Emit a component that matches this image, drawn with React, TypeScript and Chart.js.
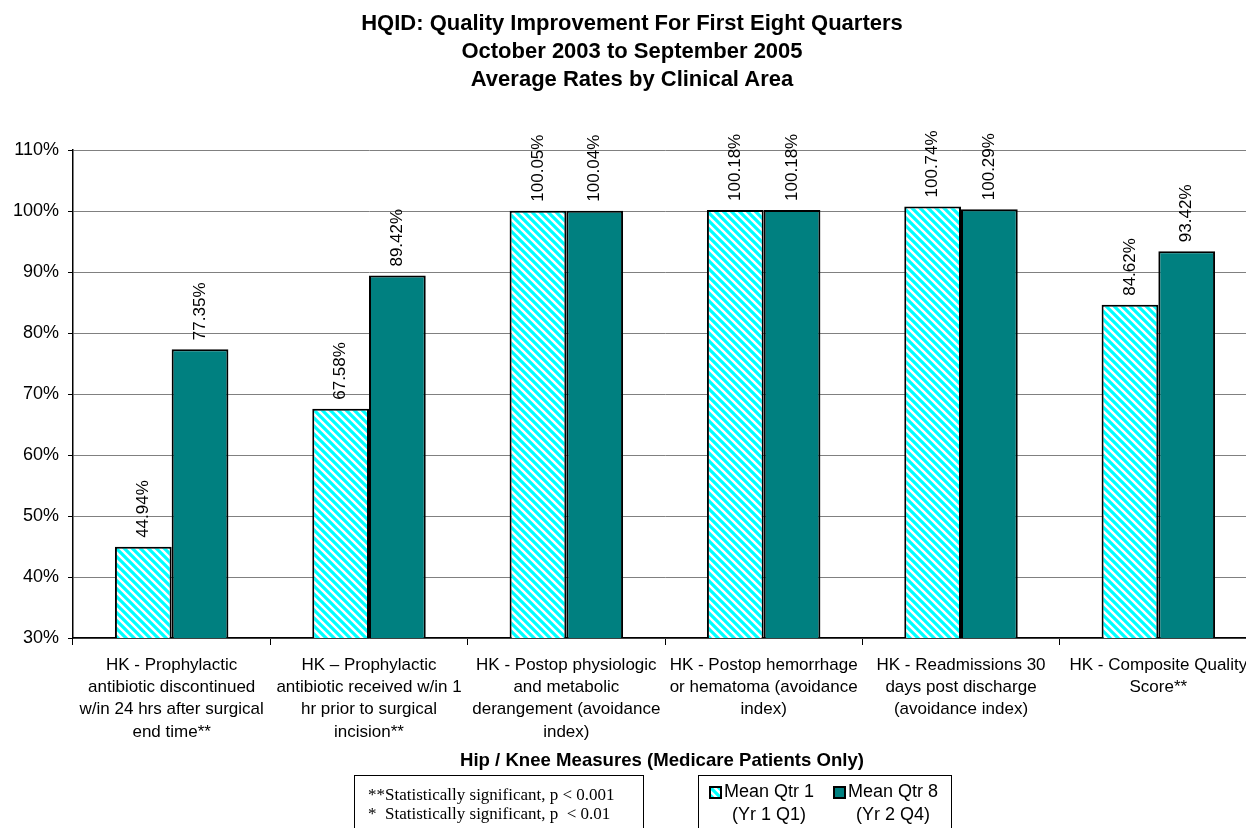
import React, { useEffect, useRef } from "react";
import { Chart, registerables } from "chart.js";

Chart.register(...registerables);

// Measures (x categories), one array of text lines per category
const categories: string[][] = [
  ["HK - Prophylactic", "antibiotic discontinued", "w/in 24 hrs after surgical", "end time**"],
  ["HK \u2013 Prophylactic", "antibiotic received w/in 1", "hr prior to surgical", "incision**"],
  ["HK - Postop physiologic", "and metabolic", "derangement (avoidance", "index)"],
  ["HK - Postop hemorrhage", "or hematoma (avoidance", "index)"],
  ["HK - Readmissions 30", "days post discharge", "(avoidance index)"],
  ["HK - Composite Quality", "Score**"],
];

// Average rates in percent
const qtr1Values = [44.94, 67.58, 100.05, 100.18, 100.74, 84.62];
const qtr8Values = [77.35, 89.42, 100.04, 100.18, 100.29, 93.42];

// Value axis
const yMin = 30;
const yMax = 110;
const yStep = 10;

const titleLines = [
  "HQID: Quality Improvement For First Eight Quarters",
  "October 2003 to September 2005",
  "Average Rates by Clinical Area",
];
const xAxisTitle = "Hip / Knee Measures (Medicare Patients Only)";
const seriesNames = ["Mean Qtr 1", "Mean Qtr 8"];
const seriesPeriods = ["(Yr 1 Q1)", "(Yr 2 Q4)"];
const noteLines = [
  "**Statistically significant, p < 0.001",
  "*\u00a0\u00a0Statistically significant, p \u00a0< 0.01",
];

const SANS = "'Liberation Sans', Arial, Helvetica, sans-serif";
const SERIF = "'Liberation Serif', 'Times New Roman', serif";
const CANVAS_W = 1262;
const CANVAS_H = 828;
const PLOT_RIGHT = 1257;
const TEAL = "#008080";
const CYAN = "#00ffff";

function hatchCanvas(size: number): HTMLCanvasElement {
  const c = document.createElement("canvas");
  c.width = size;
  c.height = size;
  const g = c.getContext("2d")!;
  g.fillStyle = "#ffffff";
  g.fillRect(0, 0, size, size);
  g.strokeStyle = CYAN;
  g.lineWidth = size * 0.4;
  g.beginPath();
  for (const k of [-size, 0, size]) {
    g.moveTo(k - 2, -2);
    g.lineTo(k + size + 2, size + 2);
  }
  g.stroke();
  return c;
}

// Rotated percentage labels above every bar
const valueLabels = {
  id: "valueLabels",
  afterDatasetsDraw(chart: any) {
    const { ctx } = chart;
    ctx.save();
    ctx.font = `17px ${SANS}`;
    ctx.fillStyle = "#000";
    ctx.textAlign = "left";
    ctx.textBaseline = "middle";
    chart.data.datasets.forEach((ds: any, di: number) => {
      const meta = chart.getDatasetMeta(di);
      meta.data.forEach((bar: any, i: number) => {
        const v = ds.data[i] as number;
        ctx.save();
        ctx.translate(bar.x, bar.y - 9);
        ctx.rotate(-Math.PI / 2);
        ctx.fillText(v.toFixed(2) + "%", 0, 0);
        ctx.restore();
      });
    });
    ctx.restore();
  },
};

function Swatch({ hatch }: { hatch: boolean }) {
  const ref = useRef<HTMLCanvasElement>(null);
  useEffect(() => {
    const c = ref.current!;
    const g = c.getContext("2d")!;
    if (hatch) {
      g.fillStyle = g.createPattern(hatchCanvas(8), "repeat")!;
    } else {
      g.fillStyle = TEAL;
    }
    g.fillRect(0, 0, 13, 13);
    g.strokeStyle = "#000";
    g.lineWidth = 2;
    g.strokeRect(1, 1, 11, 11);
  }, [hatch]);
  return <canvas ref={ref} width={13} height={13} style={{ display: "block" }} />;
}

// Legend entry positions inside the legend box (swatch left, text block left)
const legendSwatchX = [10, 134];
const legendTextX = [25, 149];

export default function App() {
  const canvasRef = useRef<HTMLCanvasElement>(null);

  useEffect(() => {
    const canvas = canvasRef.current!;
    const ctx = canvas.getContext("2d")!;
    const pattern = ctx.createPattern(hatchCanvas(8), "repeat")!;

    const chart = new Chart(canvas, {
      type: "bar",
      data: {
        labels: categories,
        datasets: [
          {
            label: seriesNames[0],
            data: qtr1Values,
            backgroundColor: pattern,
            borderColor: "#000",
            borderWidth: 2,
          },
          {
            label: seriesNames[1],
            data: qtr8Values,
            backgroundColor: TEAL,
            borderColor: "#000",
            borderWidth: 2,
          },
        ],
      },
      options: {
        animation: false,
        responsive: false,
        maintainAspectRatio: false,
        layout: { padding: { top: 150, left: 0, right: CANVAS_W - PLOT_RIGHT, bottom: 0 } },
        datasets: { bar: { categoryPercentage: 0.575, barPercentage: 1 } },
        plugins: {
          legend: { display: false },
          title: { display: false },
          tooltip: { enabled: false },
        },
        scales: {
          x: {
            offset: true,
            grid: {
              display: true,
              offset: true,
              drawOnChartArea: false,
              drawTicks: true,
              tickLength: 7,
              color: "#000",
            },
            border: { display: true, color: "#000", width: 1.5 },
            ticks: {
              autoSkip: false,
              maxRotation: 0,
              minRotation: 0,
              padding: 9,
              color: "#000",
              font: { family: SANS, size: 17, lineHeight: 1.31 },
            },
            afterFit: (s: any) => {
              s.height = CANVAS_H - 638;
            },
          },
          y: {
            min: yMin,
            max: yMax,
            ticks: {
              stepSize: yStep,
              padding: 9,
              color: "#000",
              font: { family: SANS, size: 18 },
              callback: (v: any) => v + "%",
            },
            grid: { color: "#808080", lineWidth: 1, tickLength: 5, tickColor: "#000" },
            border: { display: true, color: "#000", width: 1.5 },
            afterFit: (s: any) => {
              s.width = 73;
            },
          },
        },
      },
      plugins: [valueLabels],
    });
    return () => chart.destroy();
  }, []);

  return (
    <div
      style={{
        position: "absolute",
        left: 0,
        top: 0,
        width: 1246,
        height: 828,
        overflow: "hidden",
        background: "#fff",
        fontFamily: SANS,
        color: "#000",
      }}
    >
      <canvas
        ref={canvasRef}
        width={CANVAS_W}
        height={CANVAS_H}
        style={{ position: "absolute", left: 0, top: 0, width: CANVAS_W, height: CANVAS_H }}
      />
      <div
        style={{
          position: "absolute",
          left: 0,
          top: 9,
          width: 1264,
          textAlign: "center",
          fontWeight: "bold",
          fontSize: 22,
          lineHeight: "28px",
        }}
      >
        {titleLines.map((t) => (
          <div key={t}>{t}</div>
        ))}
      </div>
      <div
        style={{
          position: "absolute",
          left: 0,
          top: 749,
          width: 1324,
          textAlign: "center",
          fontWeight: "bold",
          fontSize: 18.6,
          lineHeight: "22px",
        }}
      >
        {xAxisTitle}
      </div>
      <div
        style={{
          position: "absolute",
          left: 354,
          top: 775,
          width: 290,
          height: 70,
          border: "1px solid #000",
          boxSizing: "border-box",
          fontFamily: SERIF,
          fontSize: 17,
          lineHeight: "19px",
          paddingLeft: 13,
          paddingTop: 9,
          whiteSpace: "pre",
        }}
      >
        {noteLines.map((t) => (
          <div key={t}>{t}</div>
        ))}
      </div>
      <div
        style={{
          position: "absolute",
          left: 698,
          top: 775,
          width: 254,
          height: 70,
          border: "1px solid #000",
          boxSizing: "border-box",
          fontSize: 18,
          lineHeight: "23px",
        }}
      >
        {seriesNames.map((name, i) => (
          <React.Fragment key={name}>
            <div style={{ position: "absolute", left: legendSwatchX[i], top: 10 }}>
              <Swatch hatch={i === 0} />
            </div>
            <div
              style={{
                position: "absolute",
                left: legendTextX[i],
                top: 4,
                textAlign: "center",
                whiteSpace: "nowrap",
              }}
            >
              <div>{name}</div>
              <div>{seriesPeriods[i]}</div>
            </div>
          </React.Fragment>
        ))}
      </div>
    </div>
  );
}
